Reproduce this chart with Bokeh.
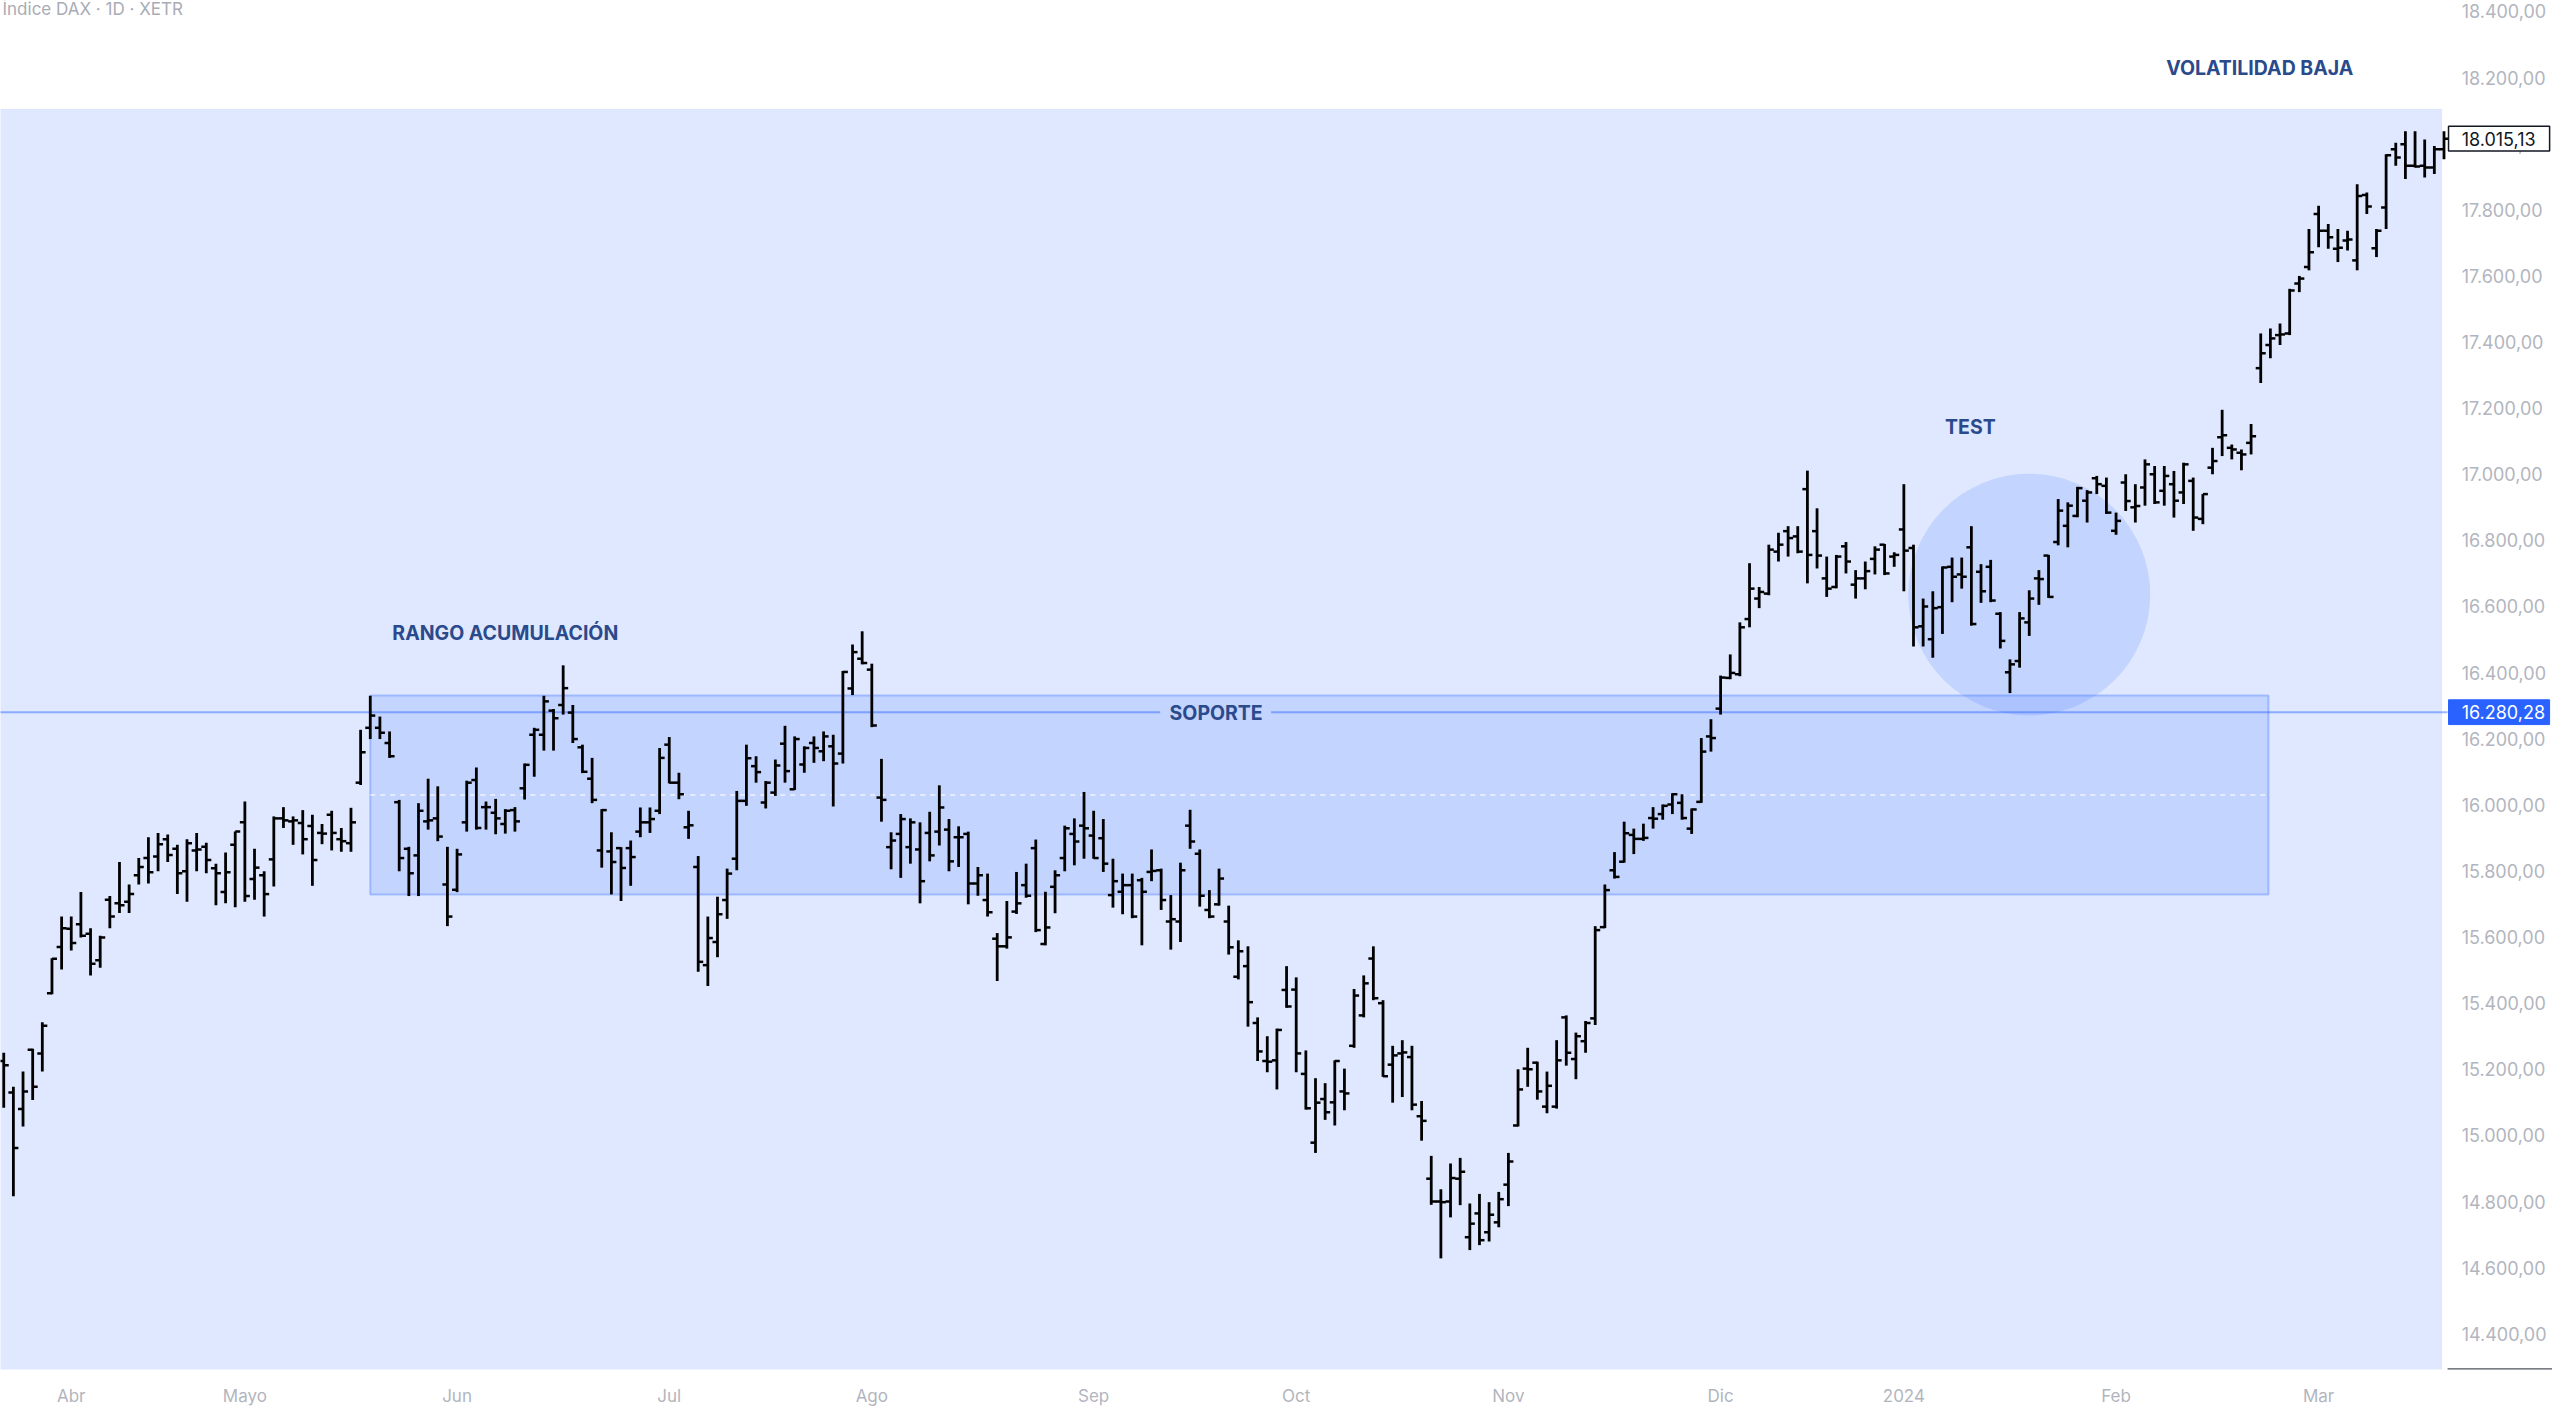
import numpy as np
from bokeh.plotting import figure
from bokeh.models import Range1d, FixedTicker, Label, BoxAnnotation
from bokeh.embed import file_html
from bokeh.resources import INLINE
from bokeh.core.properties import value

# ---------------- data (DAX daily OHLC, 22-Mar-2023 .. 20-Mar-2024, bar index) ----------------
opens = [
    15260, 15225, 15130, 15080, 15259, 15248, 15430, 15570, 15625, 15639,
    15610, 15530, 15713, 15702, 15707, 15787, 15839, 15844, 15896, 15867,
    15799, 15862, 15873, 15808, 15736, 15879, 15947, 15776, 15787, 15835,
    15959, 15950, 15945, 15936, 15915, 15970, 15896, 15884, 16067, 16233,
    16233, 16187, 16008, 15867, 15847, 15950, 15959, 15759, 15743, 15947,
    16075, 15993, 15976, 15942, 15984, 16050, 16212, 16212, 16285, 16302,
    16279, 16174, 16079, 15862, 15859, 15869, 15869, 15919, 15947, 15982,
    16182, 16067, 15932, 15812, 15515, 15585, 15712, 15837, 16012, 16117,
    16007, 16037, 16185, 16047, 16122, 16187, 16162, 16177, 16155, 16352,
    16442, 16409, 16022, 15872, 15912, 15872, 15865, 15915, 15919, 15925,
    15902, 15912, 15762, 15712, 15595, 15572, 15677, 15757, 15869, 15579,
    15752, 15839, 15912, 15937, 15907, 15899, 15727, 15737, 15757, 15772,
    15797, 15802, 15647, 15647, 15937, 15852, 15682, 15699, 15647, 15480,
    15512, 15340, 15225, 15227, 15440, 15441, 15186, 14978, 15110, 15100,
    15133, 15271, 15363, 15535, 15400, 15214, 15248, 15237, 15058, 14869,
    14800, 14800, 14869, 14692, 14764, 14707, 14737, 14851, 15030, 15202,
    15220, 15087, 15087, 15357, 15231, 15285, 15354, 15630, 15802, 15828,
    15909, 15897, 15960, 15972, 16001, 16006, 15928, 16009, 16207, 16291,
    16384, 16395, 16562, 16624, 16639, 16766, 16828, 16812, 16955, 16828,
    16685, 16659, 16782, 16666, 16685, 16744, 16787, 16751, 16833, 16777,
    16540, 16501, 16598, 16720, 16697, 16779, 16705, 16720, 16578, 16401,
    16435, 16552, 16685, 16754, 16795, 16844, 16874, 16920, 16988, 16965,
    16829, 16975, 16900, 16960, 17000, 16950, 16970, 16945, 16980, 16865,
    17020, 17112, 17080, 17065, 17095, 17321, 17391, 17421, 17426, 17577,
    17627, 17787, 17737, 17682, 17707, 17647, 17845, 17684, 17807, 17983,
    17998, 17933, 17933, 17928, 17983,
]
highs = [
    15307, 15250, 15147, 15193, 15262, 15342, 15536, 15662, 15662, 15736,
    15627, 15604, 15724, 15827, 15759, 15839, 15902, 15915, 15910, 15879,
    15896, 15915, 15885, 15822, 15856, 15919, 16010, 15867, 15799, 15965,
    15993, 15965, 15984, 15970, 15942, 15982, 15930, 15991, 16227, 16330,
    16267, 16222, 16015, 15873, 16005, 16079, 16056, 15873, 15867, 16073,
    16113, 16010, 16018, 15987, 15993, 16125, 16233, 16330, 16290, 16422,
    16302, 16182, 16142, 15987, 15917, 15872, 15892, 15992, 15992, 16172,
    16205, 16097, 15982, 15845, 15662, 15722, 15807, 16042, 16182, 16147,
    16072, 16137, 16239, 16207, 16177, 16207, 16222, 16212, 16405, 16485,
    16525, 16427, 16139, 15917, 15972, 15959, 15947, 15979, 16059, 15957,
    15935, 15919, 15812, 15792, 15612, 15709, 15797, 15822, 15895, 15737,
    15802, 15937, 15959, 16039, 15982, 15957, 15837, 15792, 15792, 15779,
    15865, 15807, 15727, 15825, 15985, 15865, 15742, 15807, 15695, 15590,
    15572, 15357, 15300, 15323, 15512, 15478, 15257, 15173, 15158, 15227,
    15202, 15443, 15484, 15572, 15409, 15271, 15288, 15271, 15104, 14938,
    14837, 14915, 14932, 14794, 14823, 14798, 14829, 14947, 15200, 15265,
    15223, 15193, 15288, 15363, 15311, 15346, 15633, 15759, 15857, 15949,
    15928, 15943, 15993, 16001, 16035, 16032, 15989, 16202, 16259, 16391,
    16455, 16552, 16731, 16659, 16787, 16823, 16843, 16843, 17011, 16897,
    16751, 16756, 16795, 16710, 16736, 16782, 16789, 16764, 16970, 16787,
    16624, 16646, 16721, 16748, 16748, 16843, 16728, 16741, 16583, 16440,
    16583, 16649, 16710, 16756, 16925, 16915, 16962, 16952, 16995, 16990,
    16884, 17000, 16970, 17045, 17025, 17025, 17010, 17035, 16990, 16940,
    17080, 17195, 17090, 17075, 17152, 17426, 17441, 17456, 17561, 17600,
    17742, 17812, 17757, 17742, 17737, 17877, 17852, 17742, 17968, 18003,
    18038, 18038, 18013, 17993, 18038,
]
lows = [
    15170, 15084, 14816, 15027, 15107, 15193, 15427, 15502, 15559, 15599,
    15484, 15507, 15627, 15673, 15673, 15759, 15762, 15799, 15827, 15730,
    15707, 15799, 15793, 15696, 15702, 15690, 15707, 15713, 15662, 15753,
    15930, 15879, 15850, 15755, 15881, 15862, 15858, 15858, 16060, 16199,
    16199, 16142, 15799, 15724, 15724, 15925, 15890, 15633, 15736, 15919,
    15925, 15925, 15911, 15913, 15919, 16016, 16085, 16164, 16164, 16273,
    16187, 16096, 16005, 15810, 15729, 15709, 15755, 15902, 15915, 15972,
    16065, 16017, 15897, 15495, 15452, 15539, 15655, 15802, 15997, 16067,
    15989, 16027, 16067, 16045, 16097, 16127, 16132, 15995, 16125, 16332,
    16425, 16235, 15949, 15805, 15779, 15822, 15702, 15829, 15877, 15799,
    15812, 15699, 15725, 15662, 15467, 15565, 15670, 15719, 15615, 15575,
    15672, 15799, 15817, 15837, 15837, 15797, 15689, 15669, 15657, 15575,
    15769, 15682, 15562, 15585, 15867, 15692, 15657, 15695, 15547, 15472,
    15329, 15225, 15191, 15139, 15386, 15191, 15078, 14947, 15047, 15030,
    15076, 15265, 15357, 15409, 15177, 15099, 15116, 15076, 14984, 14790,
    14628, 14752, 14789, 14653, 14668, 14679, 14722, 14786, 15027, 15147,
    15108, 15067, 15081, 15211, 15170, 15250, 15334, 15627, 15777, 15825,
    15851, 15891, 15928, 15955, 15972, 15955, 15912, 16006, 16161, 16273,
    16380, 16389, 16537, 16595, 16634, 16736, 16751, 16761, 16670, 16715,
    16629, 16655, 16700, 16624, 16652, 16697, 16695, 16720, 16646, 16479,
    16479, 16445, 16517, 16613, 16654, 16542, 16611, 16613, 16473, 16338,
    16415, 16511, 16605, 16626, 16785, 16779, 16870, 16854, 16940, 16880,
    16817, 16889, 16854, 16905, 16910, 16905, 16869, 16910, 16829, 16849,
    17000, 17055, 17045, 17012, 17060, 17276, 17351, 17391, 17421, 17551,
    17617, 17687, 17682, 17642, 17677, 17617, 17787, 17657, 17742, 17933,
    17893, 17928, 17898, 17908, 17953,
]
closes = [
    15218, 15212, 14962, 15133, 15147, 15332, 15534, 15627, 15582, 15604,
    15519, 15599, 15662, 15696, 15730, 15812, 15796, 15881, 15848, 15793,
    15884, 15865, 15833, 15793, 15796, 15919, 15724, 15810, 15730, 15959,
    15953, 15953, 15896, 15833, 15913, 15915, 15890, 15947, 16159, 16270,
    16218, 16147, 15839, 15793, 15982, 15953, 15904, 15662, 15850, 16067,
    15930, 15993, 15959, 15982, 15950, 16121, 16227, 16313, 16262, 16353,
    16199, 16100, 16015, 15984, 15827, 15809, 15842, 15947, 15957, 16142,
    16067, 16032, 15938, 15525, 15597, 15669, 15792, 16012, 16141, 16099,
    16067, 16119, 16102, 16199, 16172, 16172, 16207, 16125, 16402, 16462,
    16429, 16240, 16015, 15892, 15957, 15947, 15769, 15847, 15992, 15829,
    15902, 15762, 15787, 15675, 15572, 15599, 15702, 15725, 15621, 15629,
    15787, 15929, 15889, 15929, 15839, 15822, 15769, 15757, 15662, 15737,
    15800, 15712, 15654, 15802, 15889, 15725, 15662, 15777, 15569, 15557,
    15403, 15254, 15223, 15319, 15390, 15248, 15082, 15099, 15070, 15225,
    15127, 15423, 15460, 15415, 15179, 15242, 15251, 15093, 15044, 14800,
    14798, 14871, 14890, 14733, 14683, 14760, 14807, 14921, 15139, 15200,
    15133, 15150, 15227, 15250, 15300, 15340, 15621, 15742, 15782, 15914,
    15897, 15900, 15958, 15997, 16032, 15960, 15986, 16161, 16202, 16385,
    16399, 16537, 16654, 16644, 16772, 16787, 16807, 16766, 16756, 16754,
    16654, 16751, 16736, 16685, 16707, 16772, 16700, 16756, 16769, 16537,
    16600, 16595, 16718, 16690, 16690, 16547, 16646, 16618, 16496, 16425,
    16564, 16624, 16683, 16629, 16890, 16905, 16958, 16945, 16970, 16884,
    16859, 16919, 16904, 17030, 16915, 16995, 16920, 17030, 16869, 16940,
    17040, 17118, 17075, 17060, 17115, 17366, 17411, 17423, 17556, 17592,
    17672, 17737, 17717, 17685, 17710, 17842, 17810, 17737, 17965, 17958,
    17933, 17931, 17928, 17983, 18015.13,
]

# time axis: first trading bar of each month (bar index) and its label
month_ticks = [8, 26, 48, 70, 91, 114, 135, 157, 179, 198, 220, 241]
month_labels = ["Abr", "Mayo", "Jun", "Jul", "Ago", "Sep", "Oct", "Nov", "Dic", "2024", "Feb", "Mar"]

# price scale
price_ticks = [14400, 14600, 14800, 15000, 15200, 15400, 15600, 15800, 16000, 16200,
               16400, 16600, 16800, 17000, 17200, 17400, 17600, 17800, 18000, 18200, 18400]

# drawings
support_level = 16280.28
support_zone = dict(left=39, right=235.8, top=16331, bottom=15729)
low_vol_zone = dict(right=253.75, top=18104)
test_circle = dict(x=211.0, y=16636)
last_price = closes[-1]

# layout of the chart (bar-index / price units)
X0, X1 = 0.664, 265.25          # visible bar range (price scale column on the right)
Y0, Y1 = 14291.8, 18433.2       # visible price range
PLOT_END = 254.37               # right edge of the bar area
SCALE_X = 255.83                # where the price-scale labels start
BOX_L, BOX_R = 254.47, 264.95   # price-scale marker boxes
BOX_H = 37.5                    # half height of a marker box, in price units


def es_num(v):
    s = f"{v:,.2f}"
    return s.replace(",", "X").replace(".", ",").replace("X", ".")


idx = np.arange(len(closes))
BLUE = "#2962ff"
TXT = "#2b4a8b"
FONT = value("Inter")

p = figure(width=2552, height=1408,
           x_range=Range1d(X0, X1), y_range=Range1d(Y0, Y1),
           output_backend="svg", toolbar_location=None, y_axis_location=None,
           min_border_left=0, min_border_top=0, min_border_right=0, min_border_bottom=36)
p.background_fill_color = "white"
p.border_fill_color = "white"
p.outline_line_color = None
p.grid.visible = False

# zones
p.add_layout(BoxAnnotation(right=low_vol_zone["right"], top=low_vol_zone["top"],
                           fill_color=BLUE, fill_alpha=0.15,
                           line_color=BLUE, line_alpha=0.08, line_width=1, level="underlay"))
p.add_layout(BoxAnnotation(left=support_zone["left"], right=support_zone["right"],
                           top=support_zone["top"], bottom=support_zone["bottom"],
                           fill_color=BLUE, fill_alpha=0.15,
                           line_color=BLUE, line_alpha=0.3, line_width=2, level="underlay"))
mid = (support_zone["top"] + support_zone["bottom"]) / 2
p.segment(x0=[support_zone["left"]], x1=[support_zone["right"]], y0=[mid], y1=[mid],
          line_color="white", line_alpha=0.75, line_width=1.5, line_dash="5 5")

# test circle
p.scatter([test_circle["x"]], [test_circle["y"]], marker="circle", size=242,
          fill_color=BLUE, fill_alpha=0.15, line_color=None)

# support horizontal line (with gap for its text)
p.segment(x0=[-5, 132.4], x1=[120.9, PLOT_END], y0=[support_level] * 2, y1=[support_level] * 2,
          line_color=BLUE, line_alpha=0.45, line_width=2)

# OHLC bars
p.segment(x0=idx, x1=idx, y0=lows, y1=highs, line_color="black", line_width=2.8, line_cap="butt")
p.segment(x0=idx - 0.52, x1=idx, y0=opens, y1=opens, line_color="black", line_width=2.5, line_cap="butt")
p.segment(x0=idx, x1=idx + 0.52, y0=closes, y1=closes, line_color="black", line_width=2.5, line_cap="butt")

# time axis
xa = p.xaxis[0]
xa.ticker = FixedTicker(ticks=month_ticks)
xa.major_label_overrides = {t: l for t, l in zip(month_ticks, month_labels)}
xa.axis_line_color = None
xa.major_tick_line_color = None
xa.minor_tick_line_color = None
xa.major_label_text_color = "#b2b5be"
xa.major_label_text_font = "Inter"
xa.major_label_text_font_size = "17px"
xa.major_label_standoff = 10

# price scale column
p.text(x=[SCALE_X] * len(price_ticks), y=price_ticks, text=[es_num(t) for t in price_ticks],
       text_font=FONT, text_font_size="18px", text_color="#b2b5be",
       text_align="left", text_baseline="middle")
p.segment(x0=[PLOT_END], x1=[X1 + 1], y0=[Y0 + 0.5], y1=[Y0 + 0.5],
          line_color="#50535e", line_width=2)

# marker boxes on the price scale
p.quad(left=[BOX_L], right=[BOX_R], bottom=[support_level - BOX_H], top=[support_level + BOX_H],
       fill_color=BLUE, line_color=BLUE, line_width=1)
p.text(x=[SCALE_X], y=[support_level], text=[es_num(support_level)],
       text_font=FONT, text_font_size="18px", text_color="white",
       text_align="left", text_baseline="middle")
p.quad(left=[BOX_L], right=[BOX_R], bottom=[last_price - BOX_H], top=[last_price + BOX_H],
       fill_color="white", line_color="#131722", line_width=1.5)
p.text(x=[SCALE_X], y=[last_price], text=[es_num(last_price)],
       text_font=FONT, text_font_size="18px", text_color="#131722",
       text_align="left", text_baseline="middle")

# title
p.add_layout(Label(x=2, y=1361, x_units="screen", y_units="screen",
                   text="Índice DAX · 1D · XETR", text_align="left", text_baseline="middle",
                   text_font="Inter", text_font_size="17px", text_color="#a9acb4"))

# annotation texts
for tx, ty, tt in [(234.9, 18228, "VOLATILIDAD BAJA"), (204.9, 17142, "TEST"),
                   (53.0, 16521, "RANGO ACUMULACIÓN"), (126.7, 16278, "SOPORTE")]:
    p.add_layout(Label(x=tx, y=ty, text=tt, text_align="center", text_baseline="middle",
                       text_font="Inter", text_font_size="19.5px", text_font_style="bold",
                       text_color=TXT))

open("out.html", "w").write(file_html(p, INLINE))
